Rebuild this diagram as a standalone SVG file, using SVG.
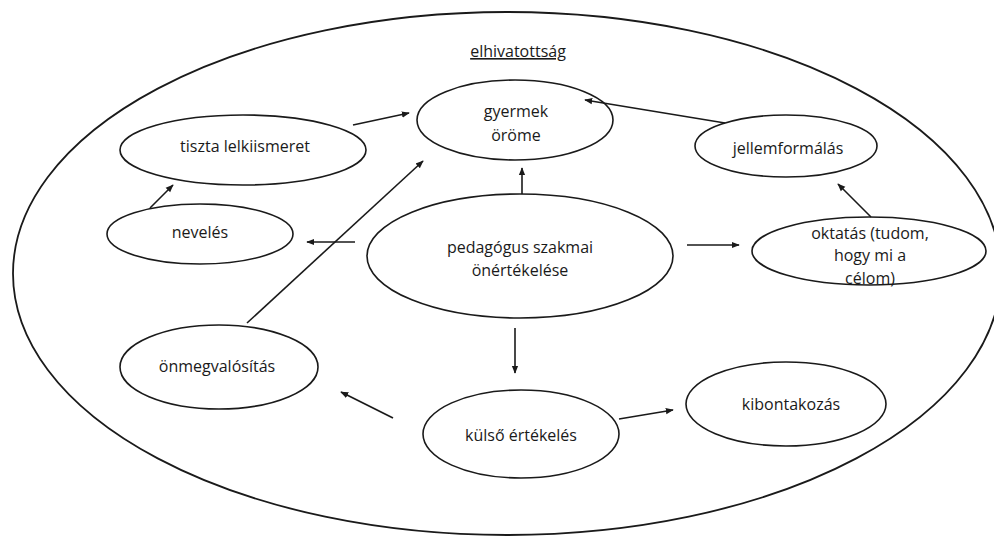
<svg xmlns="http://www.w3.org/2000/svg" width="994" height="536" viewBox="0 0 994 536">
<style>
.n{fill:#fff;stroke:#1a1a1a;stroke-width:1.6}
.o{fill:none;stroke:#1a1a1a;stroke-width:1.8}
.t{font-family:"Open Sans","Noto Sans",sans-serif;font-size:16px;fill:#1a1a1a;text-anchor:middle}
.c line{stroke:#1a1a1a;stroke-width:1.6;marker-end:url(#ah)}
</style>
<defs>
<marker id="ah" viewBox="0 0 10 10" refX="9" refY="5" markerWidth="5" markerHeight="5" markerUnits="strokeWidth" orient="auto">
<path d="M0,1 L10,5 L0,9 z" fill="#1a1a1a"/>
</marker>
</defs>
<rect width="994" height="536" fill="#fff"/>
<g id="outer">
<ellipse class="o" cx="507" cy="273.5" rx="494" ry="261.5"/>
<text class="t" x="518" y="57" font-size="19" text-decoration="underline">elhivatottság</text>
</g>
<g id="gyermek">
<ellipse class="n" cx="515" cy="120" rx="98" ry="40"/>
<text class="t" x="516" y="117">gyermek</text>
<text class="t" x="516" y="141">öröme</text>
</g>
<g id="tiszta">
<ellipse class="n" cx="243" cy="150" rx="123" ry="35"/>
<text class="t" x="245" y="152">tiszta lelkiismeret</text>
</g>
<g id="neveles">
<ellipse class="n" cx="200" cy="234" rx="93" ry="30"/>
<text class="t" x="200" y="238">nevelés</text>
</g>
<g id="pedagogus">
<ellipse class="n" cx="520" cy="256" rx="153" ry="62"/>
<text class="t" x="520" y="253">pedagógus szakmai</text>
<text class="t" x="520" y="276">önértékelése</text>
</g>
<g id="jellem">
<ellipse class="n" cx="786" cy="146" rx="91" ry="31"/>
<text class="t" x="788" y="154">jellemformálás</text>
</g>
<g id="oktatas">
<ellipse class="n" cx="869" cy="251" rx="117" ry="34"/>
<text class="t" x="870" y="239">oktatás (tudom,</text>
<text class="t" x="870" y="261">hogy mi a</text>
<text class="t" x="870" y="284">célom)</text>
</g>
<g id="onmegvalositas">
<ellipse class="n" cx="219" cy="367" rx="99" ry="42"/>
<text class="t" x="217" y="372">önmegvalósítás</text>
</g>
<g id="kulso">
<ellipse class="n" cx="521" cy="434" rx="98" ry="44"/>
<text class="t" x="521" y="441">külső értékelés</text>
</g>
<g id="kibontakozas">
<ellipse class="n" cx="786" cy="404" rx="100" ry="42"/>
<text class="t" x="791" y="410">kibontakozás</text>
</g>
<g id="connectors" class="c">
<line x1="150" y1="208" x2="173" y2="185"/>
<line x1="353" y1="125" x2="409" y2="113"/>
<line x1="247" y1="323" x2="423" y2="161"/>
<line x1="355" y1="242" x2="307" y2="242"/>
<line x1="522" y1="194" x2="522" y2="168"/>
<line x1="687" y1="245" x2="739" y2="245"/>
<line x1="871" y1="217" x2="838" y2="184"/>
<line x1="725" y1="123" x2="585" y2="100"/>
<line x1="393" y1="418" x2="341" y2="392"/>
<line x1="515" y1="328" x2="515" y2="373"/>
<line x1="619" y1="419" x2="673" y2="410"/>
</g>
</svg>
